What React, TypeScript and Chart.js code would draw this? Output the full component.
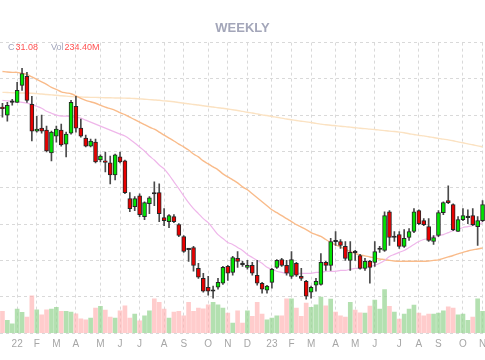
import { useEffect, useRef } from 'react';
import { Chart, registerables } from 'chart.js';

Chart.register(...registerables);

const FONT = '"Liberation Sans", Arial, Helvetica, sans-serif';

const weeks = [
  '2021-12-17','2021-12-24','2021-12-31',
  '2022-01-07','2022-01-14','2022-01-21','2022-01-28',
  '2022-02-04','2022-02-11','2022-02-18','2022-02-25',
  '2022-03-04','2022-03-11','2022-03-18','2022-03-25',
  '2022-04-01','2022-04-08','2022-04-15','2022-04-22','2022-04-29',
  '2022-05-06','2022-05-13','2022-05-20','2022-05-27',
  '2022-06-03','2022-06-10','2022-06-17','2022-06-24',
  '2022-07-01','2022-07-08','2022-07-15','2022-07-22','2022-07-29',
  '2022-08-05','2022-08-12','2022-08-19','2022-08-26',
  '2022-09-02','2022-09-09','2022-09-16','2022-09-23','2022-09-30',
  '2022-10-07','2022-10-14','2022-10-21','2022-10-28',
  '2022-11-04','2022-11-11','2022-11-18','2022-11-25',
  '2022-12-02','2022-12-09','2022-12-16','2022-12-23','2022-12-30',
  '2023-01-06','2023-01-13','2023-01-20','2023-01-27',
  '2023-02-03','2023-02-10','2023-02-17','2023-02-24',
  '2023-03-03','2023-03-10','2023-03-17','2023-03-24','2023-03-31',
  '2023-04-07','2023-04-14','2023-04-21','2023-04-28',
  '2023-05-05','2023-05-12','2023-05-19','2023-05-26',
  '2023-06-02','2023-06-09','2023-06-16','2023-06-23','2023-06-30',
  '2023-07-07','2023-07-14','2023-07-21','2023-07-28',
  '2023-08-04','2023-08-11','2023-08-18','2023-08-25',
  '2023-09-01','2023-09-08','2023-09-15','2023-09-22','2023-09-29',
  '2023-10-06','2023-10-13','2023-10-20','2023-10-27',
  '2023-11-03',
];

const tickLabels = [
  '', '', '', '22', '', '', '', 'F', '', '',
  '', 'M', '', '', '', 'A', '', '', '', '',
  'M', '', '', '', 'J', '', '', '', 'J', '',
  '', '', '', 'A', '', '', '', 'S', '', '',
  '', '', 'O', '', '', '', 'N', '', '', '',
  'D', '', '', '', '', '23', '', '', '', 'F',
  '', '', '', 'M', '', '', '', '', 'A', '',
  '', '', 'M', '', '', '', 'J', '', '', '',
  '', 'J', '', '', '', 'A', '', '', '', 'S',
  '', '', '', '', 'O', '', '', '', 'N',
];

const opens = [
  36.38, 36.00, 36.71, 36.71, 37.64, 38.14, 36.60, 35.12, 35.29, 35.18,
  33.92, 34.85, 35.18, 34.41, 35.01, 36.49, 35.29, 34.74, 34.30, 34.52,
  33.53, 33.42, 33.37, 32.71, 33.70, 33.48, 31.40, 30.96, 31.56, 30.41,
  31.12, 31.67, 31.73, 30.36, 30.14, 30.41, 29.97, 29.31, 28.60, 28.71,
  27.56, 27.01, 26.52, 26.30, 26.52, 26.74, 27.67, 27.34, 28.11, 27.78,
  27.62, 27.73, 27.18, 26.74, 26.36, 26.79, 27.62, 28.05, 27.73, 27.12,
  27.84, 27.12, 26.85, 26.25, 26.63, 26.68, 27.89, 27.73, 29.04, 29.04,
  28.77, 28.00, 28.44, 28.27, 27.56, 27.95, 27.89, 28.60, 28.55, 30.68,
  29.26, 29.42, 28.77, 29.26, 29.59, 30.74, 30.19, 29.86, 29.04, 29.37,
  30.63, 31.29, 31.07, 29.59, 30.25, 30.36, 30.47, 29.86, 30.19,
];

const highs = [
  36.66, 36.71, 36.88, 37.81, 38.58, 38.36, 37.04, 35.94, 36.00, 35.40,
  35.12, 35.40, 35.51, 35.07, 36.82, 37.04, 35.78, 34.90, 34.68, 34.68,
  33.81, 33.97, 33.75, 33.86, 33.97, 33.53, 31.73, 31.51, 31.67, 31.23,
  31.51, 32.33, 32.22, 30.85, 30.52, 30.52, 30.03, 29.37, 28.66, 28.77,
  27.84, 27.29, 27.12, 26.58, 27.01, 27.67, 27.73, 28.22, 28.49, 27.95,
  28.00, 27.89, 28.00, 26.79, 26.63, 27.56, 28.05, 28.11, 28.00, 28.49,
  27.89, 27.56, 26.90, 26.58, 27.01, 28.38, 27.95, 29.21, 29.59, 29.15,
  29.04, 29.04, 28.55, 28.33, 28.11, 28.00, 29.04, 28.77, 30.68, 30.74,
  29.59, 29.59, 29.70, 29.75, 30.85, 30.79, 30.30, 30.30, 29.37, 30.74,
  31.23, 32.11, 31.12, 30.41, 30.85, 30.79, 30.85, 30.41, 31.29,
];

const lows = [
  35.89, 35.67, 36.55, 36.71, 37.37, 36.71, 34.58, 35.07, 35.01, 33.97,
  33.48, 34.52, 34.30, 33.70, 34.96, 35.07, 34.79, 34.25, 34.25, 33.37,
  33.42, 32.88, 32.22, 32.44, 33.37, 31.67, 30.68, 30.74, 30.41, 30.25,
  30.57, 31.01, 30.14, 29.92, 29.81, 30.08, 29.31, 28.44, 27.95, 27.40,
  27.01, 26.25, 26.08, 25.92, 26.41, 26.68, 26.90, 27.18, 27.62, 27.67,
  27.51, 27.18, 26.63, 26.19, 26.19, 26.47, 27.56, 27.67, 27.18, 27.01,
  27.12, 26.90, 25.86, 25.92, 26.30, 26.63, 27.45, 27.45, 28.82, 28.66,
  28.00, 27.45, 28.00, 27.51, 27.45, 26.74, 27.67, 28.44, 28.49, 28.82,
  29.04, 28.66, 28.71, 29.10, 29.53, 29.97, 29.92, 29.04, 28.88, 29.31,
  30.52, 31.12, 29.64, 29.59, 30.19, 30.03, 29.92, 28.82, 30.14,
];

const closes = [
  36.36, 36.55, 36.72, 37.37, 38.30, 36.82, 35.12, 35.23, 35.12, 34.03,
  35.07, 35.23, 34.36, 34.96, 36.71, 35.29, 34.85, 34.30, 34.57, 33.42,
  33.75, 33.40, 32.71, 33.81, 33.42, 31.73, 30.85, 31.40, 30.52, 31.18,
  31.45, 31.66, 30.57, 30.19, 30.47, 30.14, 29.37, 28.49, 28.59, 27.73,
  27.07, 26.30, 26.30, 26.31, 26.79, 27.62, 27.29, 28.16, 27.95, 27.77,
  27.73, 27.29, 26.74, 26.41, 26.58, 27.51, 28.00, 27.73, 27.29, 28.05,
  27.18, 27.01, 26.03, 26.52, 26.85, 27.89, 27.73, 29.04, 29.03, 28.82,
  28.11, 28.44, 28.43, 27.56, 27.95, 27.62, 28.49, 28.61, 30.47, 29.26,
  29.27, 28.77, 29.21, 29.59, 30.68, 30.03, 29.97, 29.10, 29.26, 30.63,
  31.18, 31.18, 29.70, 30.25, 30.47, 30.37, 29.97, 30.19, 31.08,
];

// volume in millions
const volumes = [
  234, 137, 100, 259, 224, 173, 403, 252, 198, 252,
  259, 278, 234, 234, 227, 208, 154, 144, 162, 270,
  288, 248, 173, 162, 241, 295, 162, 205, 133, 187,
  241, 370, 332, 259, 162, 227, 234, 187, 332, 234,
  270, 262, 306, 332, 306, 270, 216, 108, 241, 108,
  241, 180, 332, 205, 144, 162, 187, 187, 370, 370,
  270, 180, 324, 278, 306, 389, 295, 367, 227, 187,
  173, 332, 248, 219, 216, 292, 356, 259, 472, 288,
  227, 151, 205, 259, 302, 216, 187, 205, 205, 216,
  241, 284, 270, 198, 205, 137, 173, 370, 234.4,
];

const maShort = [
  36.82, 36.79, 36.77, 36.74, 36.71, 36.66, 36.60, 36.49, 36.38, 36.22,
  36.11, 36.00, 35.95, 35.95, 35.92, 35.89, 35.84, 35.73, 35.62, 35.51,
  35.40, 35.29, 35.18, 35.07, 34.96, 34.85, 34.68, 34.47, 34.25, 34.03,
  33.75, 33.53, 33.26, 33.04, 32.71, 32.33, 31.95, 31.56, 31.18, 30.85,
  30.58, 30.30, 30.08, 29.75, 29.42, 29.21, 28.99, 28.88, 28.71, 28.55,
  28.33, 28.16, 28.00, 27.84, 27.62, 27.51, 27.40, 27.34, 27.29, 27.29,
  27.29, 27.29, 27.29, 27.29, 27.34, 27.34, 27.40, 27.40, 27.40, 27.45,
  27.45, 27.51, 27.56, 27.56, 27.62, 27.67, 27.73, 27.84, 28.00, 28.22,
  28.33, 28.44, 28.55, 28.71, 28.88, 29.04, 29.15, 29.21, 29.32, 29.37,
  29.42, 29.53, 29.64, 29.70, 29.81, 29.86, 29.92, 29.97, 30.08,
];

const maMid = [
  38.41, 38.38, 38.36, 38.36, 38.30, 38.25, 38.11, 37.97, 37.84, 37.70,
  37.53, 37.42, 37.29, 37.23, 37.18, 37.07, 36.93, 36.82, 36.74, 36.66,
  36.55, 36.44, 36.36, 36.27, 36.14, 36.03, 35.89, 35.75, 35.62, 35.48,
  35.34, 35.23, 35.07, 34.90, 34.74, 34.58, 34.41, 34.25, 34.08, 33.86,
  33.70, 33.48, 33.32, 33.15, 32.99, 32.77, 32.60, 32.44, 32.27, 32.05,
  31.89, 31.67, 31.45, 31.23, 31.01, 30.79, 30.63, 30.47, 30.30, 30.14,
  29.97, 29.84, 29.70, 29.53, 29.42, 29.32, 29.15, 28.99, 28.85, 28.74,
  28.60, 28.49, 28.38, 28.30, 28.25, 28.19, 28.14, 28.08, 28.05, 28.00,
  27.97, 27.95, 27.95, 27.95, 27.95, 27.95, 27.95, 27.97, 28.00, 28.03,
  28.11, 28.19, 28.27, 28.36, 28.44, 28.52, 28.58, 28.63, 28.69,
];

const maLong = [
  37.26, 37.25, 37.24, 37.23, 37.22, 37.22, 37.21, 37.19, 37.17, 37.14,
  37.12, 37.10, 37.07, 37.05, 37.03, 37.01, 37.00, 36.99, 36.98, 36.98,
  36.97, 36.96, 36.96, 36.95, 36.95, 36.94, 36.93, 36.92, 36.90, 36.88,
  36.86, 36.84, 36.82, 36.79, 36.77, 36.74, 36.70, 36.66, 36.63, 36.59,
  36.56, 36.52, 36.48, 36.45, 36.41, 36.38, 36.34, 36.30, 36.26, 36.21,
  36.16, 36.12, 36.07, 36.02, 35.98, 35.93, 35.89, 35.84, 35.79, 35.75,
  35.71, 35.67, 35.63, 35.60, 35.55, 35.51, 35.47, 35.45, 35.42, 35.39,
  35.37, 35.34, 35.31, 35.28, 35.26, 35.23, 35.21, 35.18, 35.15, 35.12,
  35.10, 35.07, 35.03, 34.98, 34.94, 34.89, 34.86, 34.81, 34.77, 34.72,
  34.68, 34.64, 34.59, 34.53, 34.48, 34.42, 34.37, 34.31, 34.26,
];

const UP = '#00e400';
const DOWN = '#e80000';
const DOJI = '#222222';
const VOL_UP = 'rgba(150, 212, 145, 0.72)';
const VOL_DOWN = 'rgba(255, 172, 172, 0.62)';
const GRID = '#d9d9d9';

export default function App() {
  const ref = useRef<HTMLCanvasElement>(null);

  useEffect(() => {
    if (!ref.current) return;
    const up = opens.map((o, i) => closes[i] >= o);
    const doji = opens.map((o, i) => Math.abs(closes[i] - o) < 0.015);
    const chart = new Chart(ref.current, {
      type: 'bar',
      data: {
        labels: weeks,
        datasets: [
          {
            type: 'bar',
            label: 'Body',
            data: opens.map((o, i) => [o, closes[i]]) as any,
            backgroundColor: opens.map((_, i) => (doji[i] ? DOJI : up[i] ? UP : DOWN)),
            borderColor: '#262626',
            borderWidth: 1,
            borderSkipped: false,
            barThickness: 4,
            minBarLength: 1.5,
            grouped: false,
            order: 0,
            yAxisID: 'y',
          } as any,
          {
            type: 'bar',
            label: 'Wick',
            data: lows.map((l, i) => [l, highs[i]]) as any,
            backgroundColor: '#4a4a4a',
            barThickness: 1,
            grouped: false,
            order: 1,
            yAxisID: 'y',
          } as any,
          {
            type: 'line',
            label: 'MA short',
            data: maShort,
            borderColor: '#efb6ea',
            borderWidth: 1.2,
            pointRadius: 0,
            tension: 0.3,
            order: 2,
            yAxisID: 'y',
          } as any,
          {
            type: 'line',
            label: 'MA mid',
            data: maMid,
            borderColor: '#f9bb8a',
            borderWidth: 1.4,
            pointRadius: 0,
            tension: 0.3,
            order: 3,
            yAxisID: 'y',
          } as any,
          {
            type: 'line',
            label: 'MA long',
            data: maLong,
            borderColor: '#fbe2c2',
            borderWidth: 1.4,
            pointRadius: 0,
            tension: 0.3,
            order: 4,
            yAxisID: 'y',
          } as any,
          {
            type: 'bar',
            label: 'Volume',
            data: volumes,
            backgroundColor: opens.map((_, i) => (up[i] ? VOL_UP : VOL_DOWN)),
            barThickness: 4,
            grouped: false,
            order: 5,
            yAxisID: 'yVol',
          } as any,
        ],
      },
      options: {
        responsive: false,
        animation: false,
        layout: { padding: { left: 0, right: 0, top: 0, bottom: 5 } },
        plugins: {
          legend: { display: false },
          tooltip: { enabled: false },
          title: {
            display: true,
            text: 'WEEKLY',
            color: '#a3a6b9',
            font: { family: FONT, size: 13, weight: 'bold' },
            padding: { top: 21, bottom: 6 },
          },
        },
        scales: {
          x: {
            offset: true,
            grid: {
              offset: false,
              drawTicks: false,
              color: (c: any) => (tickLabels[c.index] ? GRID : 'rgba(0,0,0,0)'),
            },
            border: { display: false, dash: [3, 3] },
            ticks: {
              autoSkip: false,
              maxRotation: 0,
              minRotation: 0,
              padding: 5,
              color: '#a6a6a6',
              font: { family: FONT, size: 10 },
              callback: (_v: any, i: number) => tickLabels[i],
            },
            afterFit: (s: any) => {
              s.paddingLeft = 0;
              s.paddingRight = 0;
            },
          } as any,
          y: {
            position: 'left',
            min: 24,
            max: 40,
            grid: { drawTicks: false, color: GRID },
            border: { display: false, dash: [3, 3] },
            ticks: { display: false, stepSize: 2 },
          },
          yVol: {
            display: false,
            min: 0,
            max: 3150,
          },
        },
      },
    });
    return () => chart.destroy();
  }, []);

  const last = closes.length - 1;
  return (
    <div style={{ position: 'fixed', left: 0, top: 0, width: 485, height: 360, background: '#fff' }}>
      <canvas ref={ref} width={485} height={360} style={{ display: 'block', width: 485, height: 360 }} />
      <div
        style={{
          position: 'absolute',
          left: 8,
          top: 42,
          fontFamily: FONT,
          fontSize: 9,
          lineHeight: '11px',
          whiteSpace: 'nowrap',
        }}
      >
        <span style={{ color: '#a0a4bb' }}>C</span>
        <span style={{ color: '#ff5252', marginLeft: 1 }}>{closes[last].toFixed(2)}</span>
        <span style={{ color: '#a0a4bb', marginLeft: 13 }}>Vol</span>
        <span style={{ color: '#ff5252', marginLeft: 1 }}>{volumes[last].toFixed(2)}M</span>
      </div>
    </div>
  );
}
